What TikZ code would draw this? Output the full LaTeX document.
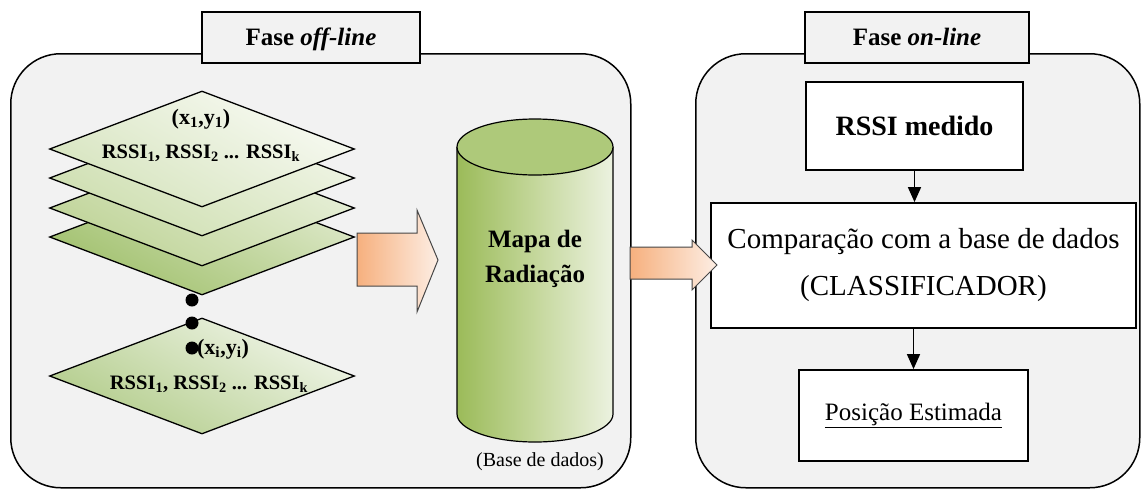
\documentclass[tikz,border=0pt]{standalone}
\usepackage{fontspec}
\setmainfont{Liberation Serif}
\usetikzlibrary{shapes.geometric,arrows.meta}

\definecolor{panelgray}{RGB}{242,242,242}
\definecolor{arrowL}{RGB}{246,176,126}
\definecolor{arrowR}{RGB}{253,238,228}
\definecolor{arrowline}{RGB}{70,70,70}
\definecolor{cylL}{RGB}{155,187,89}
\definecolor{cylM}{RGB}{196,215,155}
\definecolor{cylR}{RGB}{236,242,224}
\definecolor{cyltop}{RGB}{174,201,122}

\tikzset{
  panel/.style={rectangle, rounded corners=50pt, fill=panelgray, draw=black,
    line width=1.5pt, inner sep=0pt, anchor=north west},
  phasetitle/.style={rectangle, fill=panelgray, draw=black, line width=1.8pt,
    minimum height=51pt, inner sep=0pt, text depth=2pt,
    font=\fontsize{25}{30}\selectfont\bfseries},
  layer/.style={diamond, draw=black, line width=1.3pt, inner sep=0pt,
    minimum width=305pt, minimum height=116pt},
  laytxt/.style={inner sep=0pt, font=\fontsize{20.5}{24}\selectfont\bfseries},
  coordtxt/.style={inner sep=0pt, font=\fontsize{22}{26}\selectfont\bfseries},
  dot/.style={circle, fill=black, inner sep=0pt, minimum size=13pt},
  stepbox/.style={rectangle, draw=black, fill=white, line width=1.8pt, inner sep=0pt},
  flow/.style={line width=1.6pt, -{Triangle[length=15pt,width=13pt]}},
  bigarrow/.style={left color=arrowL, right color=arrowR, draw=arrowline, line width=1pt},
}

\begin{document}
\begin{tikzpicture}[x=1pt,y=-1pt]
\useasboundingbox (0,0) rectangle (1141,488);
\fill[white] (0,0) rectangle (1141,488);

% the two phase panels and their titles
\node[panel, minimum width=620pt, minimum height=434pt] (offpanel) at (10,53) {};
\node[panel, minimum width=444pt, minimum height=434pt] (onpanel) at (695,53) {};
\node[phasetitle, minimum width=218pt] (offtitle) at (311,37.5) {Fase \textit{off-line}};
\node[phasetitle, minimum width=224pt] (ontitle) at (917,37.5) {Fase \textit{on-line}};

% stack of measurement layers
\node[layer, top color={rgb,255:red,222;green,233;blue,202}, bottom color={rgb,255:red,160;green,192;blue,108}, shading angle=-30] (d4) at (202,237) {};
\node[layer, top color={rgb,255:red,232;green,240;blue,218}, bottom color={rgb,255:red,190;green,211;blue,150}, shading angle=-30] (d3) at (202,208) {};
\node[layer, top color={rgb,255:red,240;green,245;blue,230}, bottom color={rgb,255:red,205;green,222;blue,175}, shading angle=-30] (d2) at (202,178) {};
\node[layer, top color={rgb,255:red,248;green,250;blue,243}, bottom color={rgb,255:red,214;green,228;blue,190}, shading angle=-30] (d1) at (202,149) {};
\node[layer, top color={rgb,255:red,240;green,245;blue,232}, bottom color={rgb,255:red,178;green,204;blue,138}, shading angle=-30] (d5) at (202,376) {};

\node[coordtxt] (p1) at (201,119) {(x\textsubscript{1},y\textsubscript{1})};
\node[laytxt] (r1) at (201,153) {RSSI\textsubscript{1}, RSSI\textsubscript{2} ... RSSI\textsubscript{k}};
\node[coordtxt] (pi) at (223,349) {(x\textsubscript{i},y\textsubscript{i})};
\node[laytxt] (ri) at (209,384) {RSSI\textsubscript{1}, RSSI\textsubscript{2} ... RSSI\textsubscript{k}};

\node[dot] (dot1) at (192,300) {};
\node[dot] (dot2) at (192,323) {};
\node[dot] (dot3) at (192,348) {};

% radio map database cylinder
\shade[left color=cylL, right color=cylR, middle color=cylM]
  (457,147) -- (457,414) arc[start angle=180, end angle=0, x radius=78, y radius=28]
  -- (613,147) -- cycle;
\draw[line width=1.2pt] (457,147) -- (457,414)
  arc[start angle=180, end angle=0, x radius=78, y radius=28] -- (613,147);
\filldraw[fill=cyltop, line width=1.2pt] (535,147) ellipse[x radius=78, y radius=28];
\node[align=center, inner sep=0pt, font=\fontsize{25}{35}\selectfont\bfseries] (map) at (535,259) {Mapa de\\Radiação};
\node[inner sep=0pt, font=\fontsize{20}{24}\selectfont] (db) at (540,462) {(Base de dados)};

% on-line processing chain
\node[stepbox, minimum width=217pt, minimum height=88pt, font=\fontsize{28}{32}\selectfont\bfseries] (rssi) at (914.5,126) {RSSI medido};
\node[stepbox, minimum width=425pt, minimum height=125pt, align=center, font=\fontsize{29}{47}\selectfont] (comp) at (923.5,265.5) {Comparação com a base de dados\\(CLASSIFICADOR)};
\node[stepbox, minimum width=229pt, minimum height=91pt, font=\fontsize{25}{30}\selectfont] (pos) at (913.5,415.5) {\underline{Posição Estimada}};

\draw[flow] (rssi.south) -- (rssi.south |- comp.north);
\draw[flow] (pos.north |- comp.south) -- (pos.north);

% block arrows between the stages
\coordinate (a1tip) at (438,260);
\coordinate (a2tip) at (717,265);
\path[bigarrow] (357,233) -- (417,233) -- (417,210) -- (a1tip) -- (417,312) -- (417,286) -- (357,286) -- cycle;
\path[bigarrow] (630,247) -- (692,247) -- (692,240) -- (a2tip) -- (692,290) -- (692,279) -- (630,279) -- cycle;
\end{tikzpicture}
\end{document}
